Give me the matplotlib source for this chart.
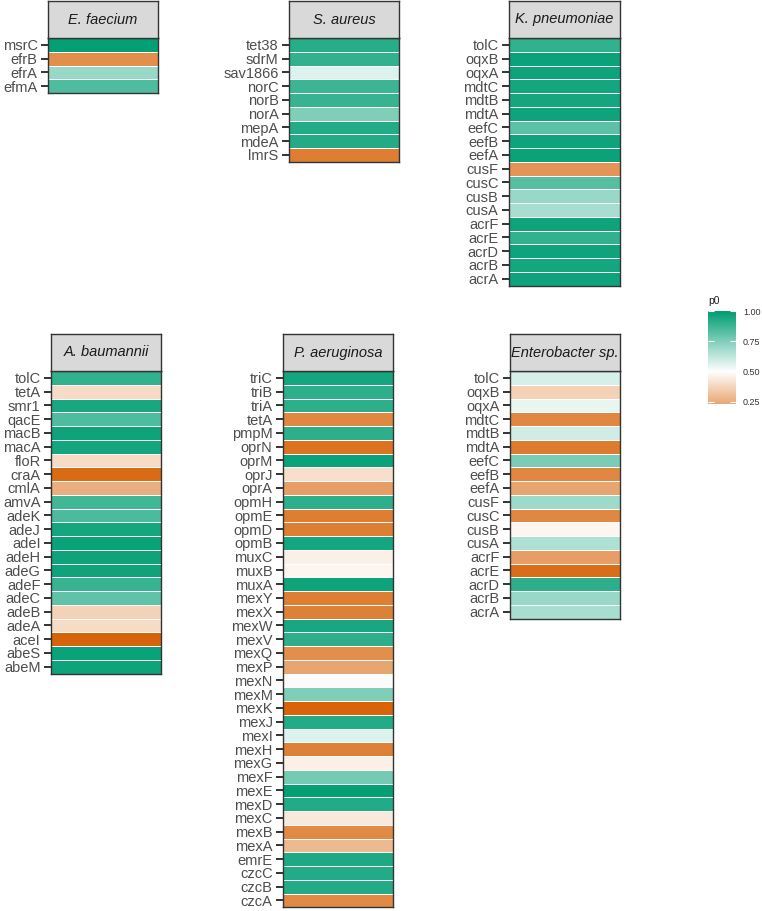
import numpy as np
import matplotlib
matplotlib.use("Agg")
import matplotlib.pyplot as plt
from matplotlib.colors import LinearSegmentedColormap, Normalize

plt.rcParams['font.family'] = ['Liberation Sans', 'DejaVu Sans']

# datos (orden de arriba hacia abajo en cada panel)
faecium_genes = ['msrC', 'efrB', 'efrA', 'efmA']
faecium_p0 = [0.99, 0.15, 0.70, 0.84]

aureus_genes = ['tet38', 'sdrM', 'sav1866', 'norC', 'norB', 'norA', 'mepA', 'mdeA', 'lmrS']
aureus_p0 = [0.92, 0.90, 0.57, 0.88, 0.89, 0.75, 0.93, 0.93, 0.10]

kpneu_genes = ['tolC', 'oqxB', 'oqxA', 'mdtC', 'mdtB', 'mdtA', 'eefC', 'eefB', 'eefA',
               'cusF', 'cusC', 'cusB', 'cusA', 'acrF', 'acrE', 'acrD', 'acrB', 'acrA']
kpneu_p0 = [0.90, 0.98, 0.97, 0.96, 0.96, 0.97, 0.82, 0.97, 0.98,
            0.17, 0.83, 0.70, 0.67, 0.97, 0.90, 0.97, 0.96, 0.97]

abau_genes = ['tolC', 'tetA', 'smr1', 'qacE', 'macB', 'macA', 'floR', 'craA', 'cmlA',
              'amvA', 'adeK', 'adeJ', 'adeI', 'adeH', 'adeG', 'adeF', 'adeC', 'adeB',
              'adeA', 'aceI', 'abeS', 'abeM']
abau_p0 = [0.90, 0.39, 0.95, 0.84, 0.97, 0.96, 0.39, 0.04, 0.25,
           0.87, 0.85, 0.96, 0.98, 0.97, 0.97, 0.89, 0.81, 0.36,
           0.39, 0.02, 0.98, 0.97]

paer_genes = ['triC', 'triB', 'triA', 'tetA', 'pmpM', 'oprN', 'oprM', 'oprJ', 'oprA',
              'opmH', 'opmE', 'opmD', 'opmB', 'muxC', 'muxB', 'muxA', 'mexY', 'mexX',
              'mexW', 'mexV', 'mexQ', 'mexP', 'mexN', 'mexM', 'mexK', 'mexJ', 'mexI',
              'mexH', 'mexG', 'mexF', 'mexE', 'mexD', 'mexC', 'mexB', 'mexA', 'emrE',
              'czcC', 'czcB', 'czcA']
paer_p0 = [0.96, 0.91, 0.91, 0.13, 0.91, 0.07, 0.98, 0.40, 0.20,
           0.91, 0.10, 0.10, 0.96, 0.455, 0.47, 0.97, 0.10, 0.11,
           0.95, 0.91, 0.15, 0.22, 0.49, 0.75, 0.02, 0.93, 0.57,
           0.11, 0.45, 0.77, 0.99, 0.93, 0.43, 0.14, 0.285, 0.94,
           0.93, 0.93, 0.14]

entero_genes = ['tolC', 'oqxB', 'oqxA', 'mdtC', 'mdtB', 'mdtA', 'eefC', 'eefB', 'eefA',
                'cusF', 'cusC', 'cusB', 'cusA', 'acrF', 'acrE', 'acrD', 'acrB', 'acrA']
entero_p0 = [0.58, 0.36, 0.545, 0.13, 0.59, 0.09, 0.76, 0.13, 0.22,
             0.69, 0.13, 0.47, 0.66, 0.20, 0.05, 0.91, 0.70, 0.67]

# panel: titulo, genes, valores, izquierda px, derecha px, arriba del heatmap px
paneles = [
    ('E. faecium', faecium_genes, faecium_p0, 48, 158, 38),
    ('S. aureus', aureus_genes, aureus_p0, 289, 399, 38),
    ('K. pneumoniae', kpneu_genes, kpneu_p0, 509, 620, 38),
    ('A. baumannii', abau_genes, abau_p0, 51, 161, 371),
    ('P. aeruginosa', paer_genes, paer_p0, 283, 393, 371),
    ('Enterobacter sp.', entero_genes, entero_p0, 510, 620, 371),
]

W, H = 762, 911
fila = 13.75
alto_strip = 37

cmap = LinearSegmentedColormap.from_list('p0', [(0, '#D55E00'), (0.5, 'white'), (1, '#009E73')])
norm = Normalize(0, 1)

fig = plt.figure(figsize=(W / 100, H / 100), dpi=100)


def caja(x0, y0, x1, y1):
    return [x0 / W, 1 - y1 / H, (x1 - x0) / W, (y1 - y0) / H]


for titulo, genes, vals, x0, x1, y0 in paneles:
    n = len(genes)
    y1 = y0 + n * fila
    ax = fig.add_axes(caja(x0, y0, x1, y1))
    z = np.array(vals).reshape(n, 1)
    ax.pcolormesh(z, cmap=cmap, norm=norm, edgecolors='white', linewidth=0.4)
    ax.set_ylim(n, 0)
    ax.set_xlim(0, 1)
    ax.set_yticks(np.arange(n) + 0.5)
    ax.set_yticklabels(genes, fontsize=10.5, color='#4d4d4d')
    ax.set_xticks([])
    ax.tick_params(axis='y', length=5, width=1.4, color='#333333', pad=2.5)
    for s in ax.spines.values():
        s.set_color('#333333')
        s.set_linewidth(1.0)

    sx = fig.add_axes(caja(x0, y0 - alto_strip, x1, y0))
    sx.set_facecolor('#d9d9d9')
    sx.set_xticks([])
    sx.set_yticks([])
    for s in sx.spines.values():
        s.set_color('#333333')
        s.set_linewidth(1.0)
    sx.text(0.5, 0.5, titulo, transform=sx.transAxes, ha='center', va='center',
            fontsize=10.5, style='italic', color='#1a1a1a')

# leyenda
vmin_leyenda = 0.23
cax = fig.add_axes(caja(708, 311, 736, 404))
grad = np.linspace(vmin_leyenda, 1.0, 200).reshape(-1, 1)
cax.imshow(grad, cmap=cmap, norm=norm, aspect='auto', origin='lower',
           extent=[0, 1, vmin_leyenda, 1.0])
cax.set_xlim(0, 1)
cax.set_ylim(vmin_leyenda, 1.0)
cax.set_xticks([])
cax.set_yticks([0.25, 0.50, 0.75, 1.00])
cax.set_yticklabels(['0.25', '0.50', '0.75', '1.00'])
cax.tick_params(axis='y', left=True, right=True, labelleft=False, labelright=True,
                direction='in', length=4, width=0.8, color='white',
                labelsize=6.5, labelcolor='#333333', pad=5)
for s in cax.spines.values():
    s.set_visible(False)
fig.text(708 / W, 1 - 301 / H, 'p0', fontsize=7.5, color='#1a1a1a', ha='left', va='center')

fig.savefig('out.png', dpi=100)
